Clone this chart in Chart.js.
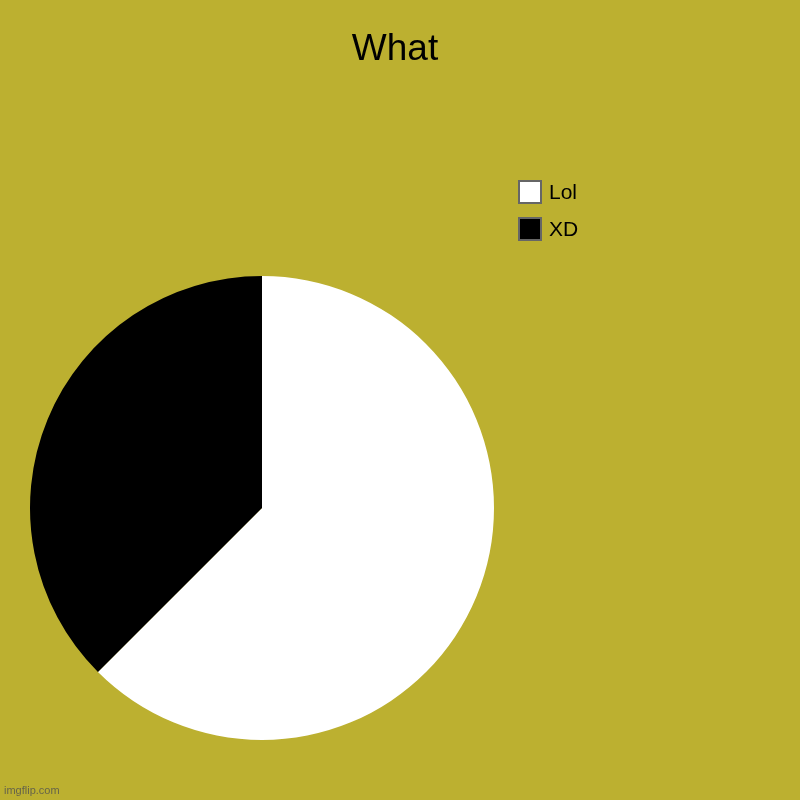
<!DOCTYPE html>
<html>
<head>
<meta charset="utf-8">
<script src="https://cdn.jsdelivr.net/npm/chart.js@4"></script>
<style>
  html, body { margin: 0; padding: 0; background: #bcb030; }
  #wrap { width: 800px; height: 800px; position: relative; }
</style>
</head>
<body>
<div id="wrap"><canvas id="myChart" width="800" height="800"></canvas></div>
<script>
var title = "What";
var labels = ["Lol", "XD"];
var values = [5, 3];
var colors = ["#ffffff", "#000000"];

// title + legend drawn on the canvas, legend taken from the chart's data
var textPlugin = {
  id: "textPlugin",
  afterDraw: function(chart) {
    var ctx = chart.ctx;
    ctx.save();
    ctx.fillStyle = "#000";
    ctx.font = "37px 'Liberation Sans', Arial, sans-serif";
    ctx.textAlign = "center";
    ctx.textBaseline = "alphabetic";
    ctx.fillText(title, 395, 60);

    ctx.textAlign = "left";
    ctx.textBaseline = "middle";
    ctx.font = "21px 'Liberation Sans', Arial, sans-serif";
    var ds = chart.data.datasets[0];
    for (var i = 0; i < chart.data.labels.length; i++) {
      var y = 181 + i * 37;
      ctx.fillStyle = ds.backgroundColor[i];
      ctx.fillRect(519, y, 22, 22);
      ctx.strokeStyle = "#666";
      ctx.lineWidth = 2;
      ctx.strokeRect(519, y, 22, 22);
      ctx.fillStyle = "#000";
      ctx.fillText(chart.data.labels[i], 549, y + 12);
    }

    ctx.fillStyle = "rgba(80,80,80,0.8)";
    ctx.font = "11px 'Liberation Sans', Arial, sans-serif";
    ctx.fillText("imgflip.com", 4, 791);
    ctx.restore();
  }
};

var ctx = document.getElementById("myChart");
var pieChart = new Chart(ctx, {
  type: "pie",
  data: {
    labels: labels,
    datasets: [{
      data: values,
      backgroundColor: colors,
      borderWidth: 0
    }]
  },
  options: {
    responsive: false,
    animation: false,
    layout: { padding: { left: 30, right: 306, top: 276, bottom: 60 } },
    plugins: {
      legend: { display: false },
      title: { display: false },
      tooltip: { enabled: false }
    }
  },
  plugins: [textPlugin]
});
</script>
</body>
</html>
